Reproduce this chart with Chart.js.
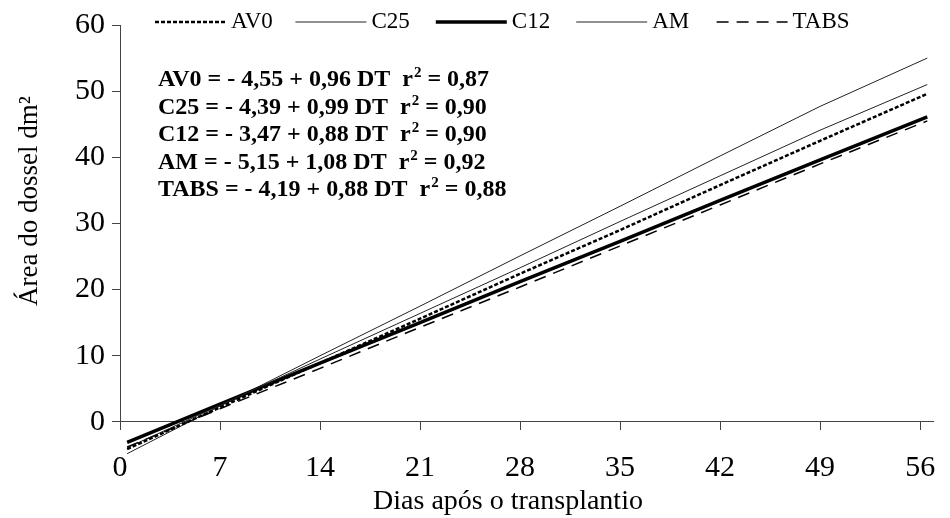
<!DOCTYPE html>
<html>
<head>
<meta charset="utf-8">
<script src="https://cdn.jsdelivr.net/npm/chart.js@4.4.1/dist/chart.umd.min.js"></script>
<style>
    html, body { margin: 0; padding: 0; background: #fff; }
    #wrap { width: 950px; height: 518px; }
</style>
</head>
<body>
<div id="wrap"><canvas id="chart"></canvas></div>
<script>
const days = [ 0.5, 7, 14, 21, 28, 35, 42, 49, 56.5 ];

// Canopy area (dm²) per treatment
const av0  = [ -4.1, 2.2, 8.9, 15.6, 22.4, 29.0, 35.8, 42.5, 49.6 ];
const c25  = [ -3.9, 2.5, 9.5, 16.4, 23.3, 30.3, 37.2, 44.1, 51.0 ];
const c12  = [ -3.1, 2.7, 8.9, 15.0, 21.2, 27.3, 33.5, 39.6, 46.1 ];
const am   = [ -4.8, 2.4, 10.0, 17.5, 25.1, 32.6, 40.2, 47.7, 55.0 ];
const tabs = [ -3.8, 2.0, 8.1, 14.3, 20.4, 26.6, 32.8, 39.0, 45.5 ];

const seriesNames = [ 'AV0', 'C25', 'C12', 'AM', 'TABS' ];

// Tick labels
const xTicks = [ 0, 7, 14, 21, 28, 35, 42, 49, 56 ];
const yTicks = [ 0, 10, 20, 30, 40, 50, 60 ];

// Regression text: [before superscript, superscript, after]
const equations = [
    [ 'AV0 = - 4,55 + 0,96 DT  r', '2', ' = 0,87' ],
    [ 'C25 = - 4,39 + 0,99 DT  r', '2', ' = 0,90' ],
    [ 'C12 = - 3,47 + 0,88 DT  r', '2', ' = 0,90' ],
    [ 'AM = - 5,15 + 1,08 DT  r', '2', ' = 0,92' ],
    [ 'TABS = - 4,19 + 0,88 DT  r', '2', ' = 0,88' ]
];

const xTitle = 'Dias após o transplantio';
const yTitle = 'Área do dossel dm²';

const SERIF = '"Liberation Serif", "Times New Roman", serif';
const AXIS_COLOR = '#444';

function toPoints ( values )
{
    return days.map( ( d, i ) => ( { x: d, y: values[ i ] } ) );
}

const styles = [
    { borderWidth: 2.5, borderDash: [ 4, 2 ], borderColor: '#000' },
    { borderWidth: 1, borderDash: [], borderColor: '#222' },
    { borderWidth: 3.5, borderDash: [], borderColor: '#000' },
    { borderWidth: 1, borderDash: [], borderColor: '#222' },
    { borderWidth: 1.5, borderDash: [ 12, 8 ], borderColor: '#000' }
];

const datasets = [ av0, c25, c12, am, tabs ].map( ( values, i ) => ( {
    label: seriesNames[ i ],
    data: toPoints( values ),
    xAxisID: 'x',
    yAxisID: 'y',
    pointRadius: 0,
    tension: 0,
    fill: false,
    clip: false,
    ...styles[ i ]
} ) );

// Draws the y axis line, legend, equations and axis titles
const extrasPlugin = {
    id: 'extras',
    afterDraw ( chart )
    {
        const ctx = chart.ctx;
        const { left } = chart.chartArea;
        const yScale = chart.scales.y;

        // y axis line only from 0 up to 60
        ctx.save();
        ctx.strokeStyle = AXIS_COLOR;
        ctx.lineWidth = 1;
        const ax = Math.round( left ) + 0.5;
        ctx.beginPath();
        ctx.moveTo( ax, yScale.getPixelForValue( yTicks[ yTicks.length - 1 ] ) );
        ctx.lineTo( ax, yScale.getPixelForValue( 0 ) );
        ctx.stroke();
        ctx.restore();

        // legend
        ctx.save();
        ctx.font = '23px ' + SERIF;
        ctx.fillStyle = '#000';
        ctx.textBaseline = 'middle';
        chart.data.datasets.forEach( ( ds, i ) =>
        {
            const x0 = 155 + 140.4 * i;
            const y = 22;
            ctx.save();
            ctx.strokeStyle = ds.borderColor;
            ctx.lineWidth = ds.borderWidth;
            ctx.setLineDash( ds.borderDash || [] );
            ctx.beginPath();
            ctx.moveTo( x0, y );
            ctx.lineTo( x0 + 71, y );
            ctx.stroke();
            ctx.restore();
            ctx.fillText( ds.label, x0 + 76, y );
        } );
        ctx.restore();

        // equations
        ctx.save();
        ctx.fillStyle = '#000';
        ctx.textBaseline = 'alphabetic';
        equations.forEach( ( eq, i ) =>
        {
            const y = 86 + 27.5 * i;
            let x = 158;
            ctx.font = 'bold 24px ' + SERIF;
            ctx.fillText( eq[ 0 ], x, y );
            x += ctx.measureText( eq[ 0 ] ).width;
            ctx.font = 'bold 15px ' + SERIF;
            ctx.fillText( eq[ 1 ], x + 1, y - 9 );
            x += ctx.measureText( eq[ 1 ] ).width + 1;
            ctx.font = 'bold 24px ' + SERIF;
            ctx.fillText( eq[ 2 ], x, y );
        } );
        ctx.restore();

        // axis titles
        ctx.save();
        ctx.fillStyle = '#000';
        ctx.textAlign = 'center';
        ctx.textBaseline = 'alphabetic';
        ctx.font = '28px ' + SERIF;
        ctx.fillText( xTitle, 508, 509 );
        ctx.translate( 37, 201 );
        ctx.rotate( -Math.PI / 2 );
        ctx.font = '27px ' + SERIF;
        ctx.fillText( yTitle, 0, 0 );
        ctx.restore();
    }
};

const xRange = { min: 0, max: 56.9 };

new Chart( document.getElementById( 'chart' ), {
    type: 'line',
    data: { datasets },
    options: {
        responsive: true,
        maintainAspectRatio: false,
        animation: false,
        devicePixelRatio: 1,
        layout: { padding: { top: 18, right: 17, left: 0, bottom: 0 } },
        plugins: {
            legend: { display: false },
            tooltip: { enabled: false }
        },
        scales: {
            x: {
                type: 'linear',
                position: 'bottom',
                ...xRange,
                grid: { display: false, drawTicks: false },
                border: { display: false },
                ticks: {
                    stepSize: 7,
                    includeBounds: false,
                    padding: -5,
                    color: '#000',
                    font: { family: SERIF, size: 30 },
                    callback: ( v ) => xTicks.includes( v ) ? String( v ) : ''
                },
                afterFit: ( scale ) => { scale.height = 63; }
            },
            x0: {
                type: 'linear',
                position: { y: 0 },
                ...xRange,
                grid: {
                    drawOnChartArea: false,
                    drawTicks: true,
                    tickLength: 8,
                    color: AXIS_COLOR
                },
                border: { display: true, color: AXIS_COLOR, width: 1 },
                ticks: { stepSize: 7, includeBounds: false, display: false }
            },
            y: {
                type: 'linear',
                min: -5,
                max: 60,
                grid: {
                    drawOnChartArea: false,
                    drawTicks: true,
                    tickLength: 8,
                    color: AXIS_COLOR
                },
                border: { display: false },
                ticks: {
                    stepSize: 10,
                    includeBounds: false,
                    padding: 7,
                    color: '#000',
                    font: { family: SERIF, size: 30 },
                    callback: ( v ) => yTicks.includes( v ) ? String( v ) : ''
                },
                afterFit: ( scale ) => { scale.width = 120; }
            }
        }
    },
    plugins: [ extrasPlugin ]
} );
</script>
</body>
</html>
